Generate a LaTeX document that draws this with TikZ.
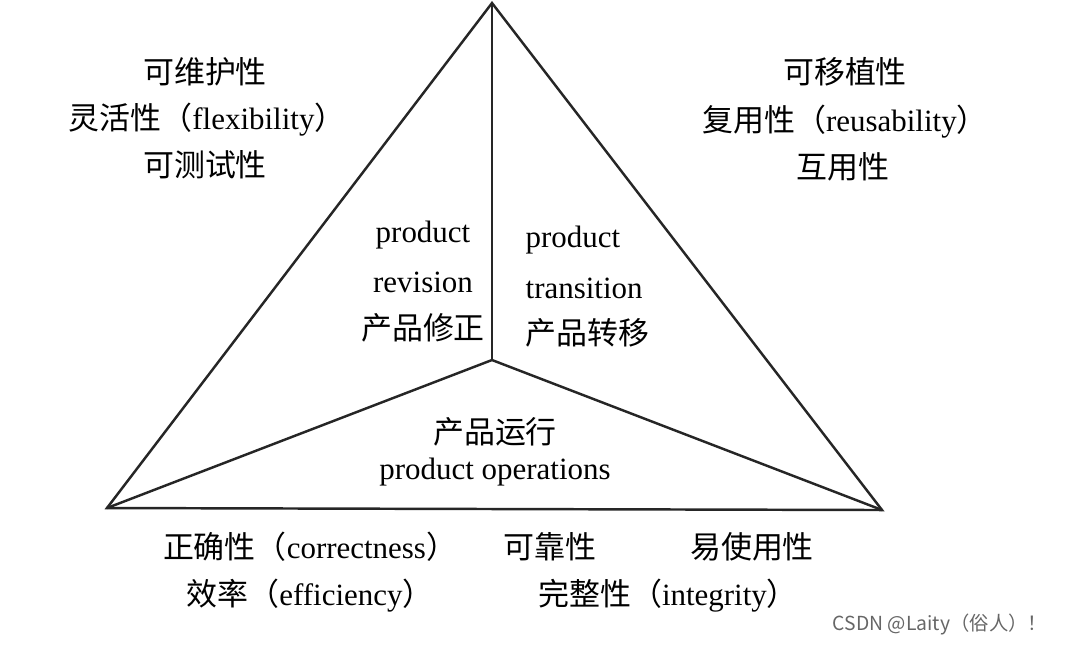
\documentclass[tikz,border=0pt]{standalone}
\usepackage{fontspec}
\setmainfont{Liberation Serif}
\newfontfamily\cjk{Noto Sans CJK SC}
\begin{document}
\begin{tikzpicture}[x=0.01cm,y=-0.01cm,
  lbl/.style={font=\fontsize{8.8pt}{10pt}\selectfont,inner sep=0pt},
  edge/.style={draw=black!85,line width=0.7pt}]
\useasboundingbox (0,0) rectangle (1067,644);
\coordinate (T) at (492,3);
\coordinate (L) at (107,508);
\coordinate (R) at (882,510);
\coordinate (C) at (492,360);
\draw[edge] (T) -- (L) -- (R) -- cycle;
\draw[edge] (C) -- (T);
\draw[edge] (C) -- (L);
\draw[edge] (C) -- (R);
\node[lbl] (a1) at (205,72) {\cjk 可维护性};
\node[lbl] (a2) at (207,120) {{\cjk 灵活性（}flexibility{\cjk ）}};
\node[lbl] (a3) at (205,165) {\cjk 可测试性};
\node[lbl] (b1) at (845,72) {\cjk 可移植性};
\node[lbl] (b2) at (845,122) {{\cjk 复用性（}reusability{\cjk ）}};
\node[lbl] (b3) at (843,167) {\cjk 互用性};
\node[lbl] (r1) at (423,235) {product};
\node[lbl] (r2) at (423,282) {revision};
\node[lbl] (r3) at (423,328) {\cjk 产品修正};
\node[lbl,anchor=west] (t1) at (525,240) {product};
\node[lbl,anchor=west] (t2) at (525,288) {transition};
\node[lbl,anchor=west] (t3) at (525,333) {\cjk 产品转移};
\node[lbl] (o1) at (495,432) {\cjk 产品运行};
\node[lbl] (o2) at (495,472) {product operations};
\node[lbl] (c1) at (310,547) {{\cjk 正确性（}correctness{\cjk ）}};
\node[lbl] (c2) at (550,547) {\cjk 可靠性};
\node[lbl] (c3) at (752,547) {\cjk 易使用性};
\node[lbl] (d1) at (310,596) {{\cjk 效率（}efficiency{\cjk ）}};
\node[lbl] (d2) at (668,596) {{\cjk 完整性（}integrity{\cjk ）}};
\node[inner sep=0pt,text=black!60,font=\cjk\fontsize{5.5pt}{7pt}\selectfont] (w) at (940,624) {CSDN @Laity（俗人）！};
\end{tikzpicture}
\end{document}
